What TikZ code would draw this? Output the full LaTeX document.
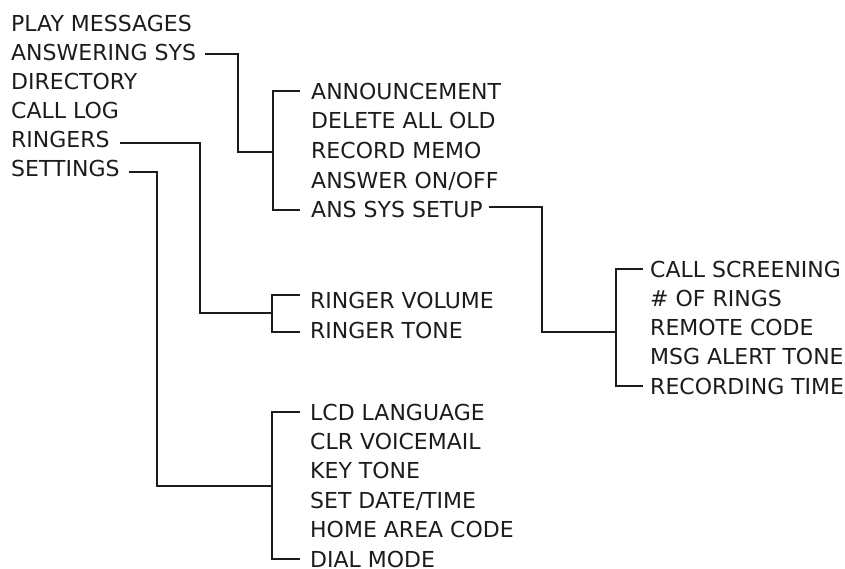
\documentclass[tikz,border=0pt]{standalone}
\usepackage{fontspec}
\setmainfont{DejaVu Sans}
\usetikzlibrary{positioning}
\definecolor{ink}{HTML}{1E1B1C}

\begin{document}
\begin{tikzpicture}[x=1pt,y=-1pt,
  item/.style={anchor=west,inner sep=0pt,text height=16pt,text depth=0pt,
    font=\fontsize{22}{26}\selectfont,text=ink},
  wire/.style={draw=ink,line width=2pt}]
  \useasboundingbox (0,0) rectangle (845,568);
  % main menu
  \foreach \n/\t [count=\i] in {play/PLAY MESSAGES,ansys/ANSWERING SYS,dir/DIRECTORY,
      calllog/CALL LOG,ringers/RINGERS,settings/SETTINGS}
    \node[item] (\n) at (11,{23+29*(\i-1)}) {\t};
  % answering system
  \foreach \n/\t [count=\i] in {annc/ANNOUNCEMENT,delold/DELETE ALL OLD,memo/RECORD MEMO,
      onoff/{ANSWER ON/OFF},setup/ANS SYS SETUP}
    \node[item] (\n) at (311,{91+29.7*(\i-1)}) {\t};
  % ringers
  \foreach \n/\t [count=\i] in {rvol/RINGER VOLUME,rtone/RINGER TONE}
    \node[item] (\n) at (310,{300+30*(\i-1)}) {\t};
  % settings
  \foreach \n/\t [count=\i] in {lcd/LCD LANGUAGE,clrvm/CLR VOICEMAIL,keytone/KEY TONE,
      date/{SET DATE/TIME},area/HOME AREA CODE,dial/DIAL MODE}
    \node[item] (\n) at (310,{412+29.4*(\i-1)}) {\t};
  % ans sys setup
  \foreach \n/\t [count=\i] in {screen/CALL SCREENING,rings/\# OF RINGS,remote/REMOTE CODE,
      alert/MSG ALERT TONE,rectime/RECORDING TIME}
    \node[item] (\n) at (650,{269+29.25*(\i-1)}) {\t};

  % brackets
  \draw[wire] ([xshift=-11pt]annc.west) -- ++(-27,0) |- ([xshift=-11pt]setup.west);
  \draw[wire] ([xshift=-10pt,yshift=5pt]rvol.west) -- ++(-28,0) |- ([xshift=-10pt,yshift=-2pt]rtone.west);
  \draw[wire] ([xshift=-10pt]lcd.west) -- ++(-28,0) |- ([xshift=-10pt]dial.west);
  \draw[wire] ([xshift=-7pt]screen.west) -- ++(-27,0) |- ([xshift=-7pt]rectime.west);

  \coordinate (jans) at (273,152);
  \coordinate (jring) at (272,313);
  \coordinate (jset) at (272,486);
  \coordinate (jsetup) at (616,332);

  % links to submenus
  \draw[wire] ([xshift=9pt,yshift=-2pt]ansys.east) -| ([xshift=-35pt]jans) -- (jans);
  \draw[wire] ([xshift=10pt,yshift=-4pt]ringers.east) -| ([xshift=-72pt]jring) -- (jring);
  \draw[wire] ([xshift=9pt,yshift=-4pt]settings.east) -| ([xshift=-115pt]jset) -- (jset);
  \draw[wire] ([xshift=6pt,yshift=3pt]setup.east) -| ([xshift=-74pt]jsetup) -- (jsetup);
\end{tikzpicture}
\end{document}
